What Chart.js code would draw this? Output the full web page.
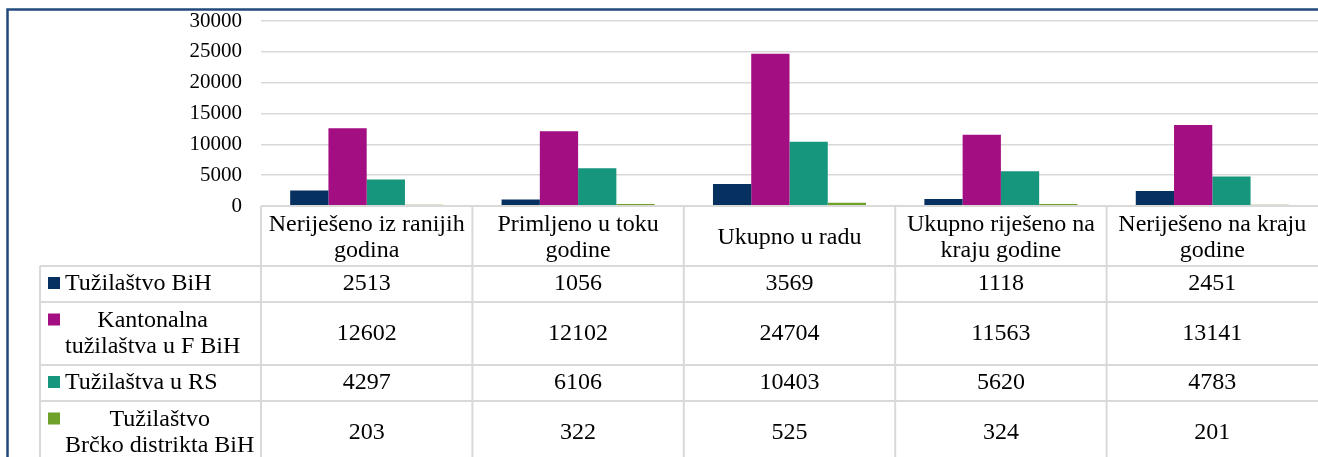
<!DOCTYPE html>
<html>
<head>
<meta charset="utf-8">
<script src="https://cdn.jsdelivr.net/npm/chart.js@4.4.1/dist/chart.umd.min.js"></script>
<style>
  html, body { margin: 0; padding: 0; background: #fff; overflow: hidden; }
  canvas { display: block; }
</style>
</head>
<body>
<canvas id="chart" width="1318" height="457"></canvas>
<script>
// categories (header lines as shown in the table)
const categories = [
  ["Neriješeno iz ranijih", "godina"],
  ["Primljeno u toku", "godine"],
  ["Ukupno u radu"],
  ["Ukupno riješeno na", "kraju godine"],
  ["Neriješeno na kraju", "godine"]
];

const seriesNames = [
  ["Tužilaštvo BiH"],
  ["Kantonalna", "tužilaštva u F BiH"],
  ["Tužilaštva u RS"],
  ["Tužilaštvo", "Brčko distrikta BiH"]
];

const tuzilastvoBiH = [2513, 1056, 3569, 1118, 2451];
const kantonalnaFBiH = [12602, 12102, 24704, 11563, 13141];
const tuzilastvaRS = [4297, 6106, 10403, 5620, 4783];
const brckoDistrikt = [203, 322, 525, 324, 201];

const yTicks = [0, 5000, 10000, 15000, 20000, 25000, 30000];

const colors = ["#06305f", "#a30e82", "#16967c", "#6fa12a"];
const allSeries = [tuzilastvoBiH, kantonalnaFBiH, tuzilastvaRS, brckoDistrikt];

const serif = "'Liberation Serif', 'Times New Roman', serif";
const gridColor = "#d9d9d9";

// row boundaries of the data table below the plot
const rowEdges = [266, 302, 365, 401, 464];
const legendLeft = 40;

const tablePlugin = {
  id: "dataTable",
  beforeDraw(chart) {
    const ctx = chart.ctx;
    ctx.save();
    ctx.fillStyle = "#fff";
    ctx.fillRect(0, 0, chart.width, chart.height);
    ctx.restore();
  },
  afterDraw(chart) {
    const ctx = chart.ctx;
    const area = chart.chartArea;
    const xs = chart.scales.x;
    const colW = (area.right - area.left) / categories.length;
    ctx.save();

    // grid of the table
    ctx.strokeStyle = gridColor;
    ctx.lineWidth = 2;
    ctx.beginPath();
    ctx.moveTo(area.left, area.bottom);
    ctx.lineTo(2000, area.bottom);
    for (let i = 0; i < categories.length; i++) {
      const x = area.left + i * colW;
      ctx.moveTo(x, area.bottom);
      ctx.lineTo(x, 1000);
    }
    rowEdges.slice(0, -1).forEach(y => {
      ctx.moveTo(legendLeft, y);
      ctx.lineTo(2000, y);
    });
    ctx.moveTo(legendLeft, rowEdges[0]);
    ctx.lineTo(legendLeft, 1000);
    ctx.stroke();

    ctx.fillStyle = "#000";
    ctx.font = "24px " + serif;
    ctx.textAlign = "center";
    ctx.textBaseline = "middle";
    const lh = 26;

    // header: category names
    const headMid = (area.bottom + rowEdges[0]) / 2 + 2;
    categories.forEach((lines, i) => {
      const cx = xs.getPixelForValue(i);
      lines.forEach((t, k) => {
        ctx.fillText(t, cx, headMid + (k - (lines.length - 1) / 2) * lh);
      });
    });

    // rows: legend key + values
    allSeries.forEach((vals, r) => {
      const top = rowEdges[r], bot = rowEdges[r + 1];
      const mid = (top + bot) / 2;
      const lines = seriesNames[r];
      const firstY = mid - (lines.length - 1) / 2 * lh;
      ctx.fillStyle = colors[r];
      ctx.fillRect(48, firstY - 7, 12, 12);
      ctx.fillStyle = "#000";
      if (lines.length === 1) {
        ctx.textAlign = "left";
        ctx.fillText(lines[0], 65, mid);
      } else {
        const w = Math.max(...lines.map(t => ctx.measureText(t).width));
        ctx.textAlign = "center";
        lines.forEach((t, k) => ctx.fillText(t, 65 + w / 2, firstY + k * lh));
      }
      ctx.textAlign = "center";
      vals.forEach((v, i) => {
        ctx.fillText(String(v), xs.getPixelForValue(i), mid);
      });
    });

    // outer frame (top and left edges are the only ones in view)
    ctx.strokeStyle = "#234a7c";
    ctx.lineWidth = 2.5;
    ctx.beginPath();
    ctx.moveTo(7.5, 1000);
    ctx.lineTo(7.5, 9.5);
    ctx.lineTo(2000, 9.5);
    ctx.stroke();
    ctx.restore();
  }
};

new Chart(document.getElementById("chart"), {
  type: "bar",
  data: {
    labels: categories.map(c => c.join(" ")),
    datasets: allSeries.map((vals, i) => ({
      label: seriesNames[i].join(" "),
      data: vals,
      backgroundColor: colors[i],
      borderWidth: 0,
      categoryPercentage: 0.724,
      barPercentage: 1
    }))
  },
  options: {
    responsive: false,
    animation: false,
    layout: { padding: { top: 21, bottom: 251, left: 0, right: 0 } },
    plugins: { legend: { display: false }, tooltip: { enabled: false } },
    scales: {
      x: { display: false },
      y: {
        min: 0,
        max: 30000,
        afterBuildTicks: s => { s.ticks = yTicks.map(v => ({ value: v })); },
        afterFit: s => {
          s.width = 261;
          s.paddingTop = 0;
          s.paddingBottom = 0;
        },
        ticks: {
          padding: 19,
          color: "#000",
          font: { family: serif, size: 21 },
          callback: v => String(v)
        },
        grid: { color: gridColor, lineWidth: 1.5, drawTicks: false },
        border: { display: false }
      }
    }
  },
  plugins: [tablePlugin]
});
</script>
</body>
</html>
